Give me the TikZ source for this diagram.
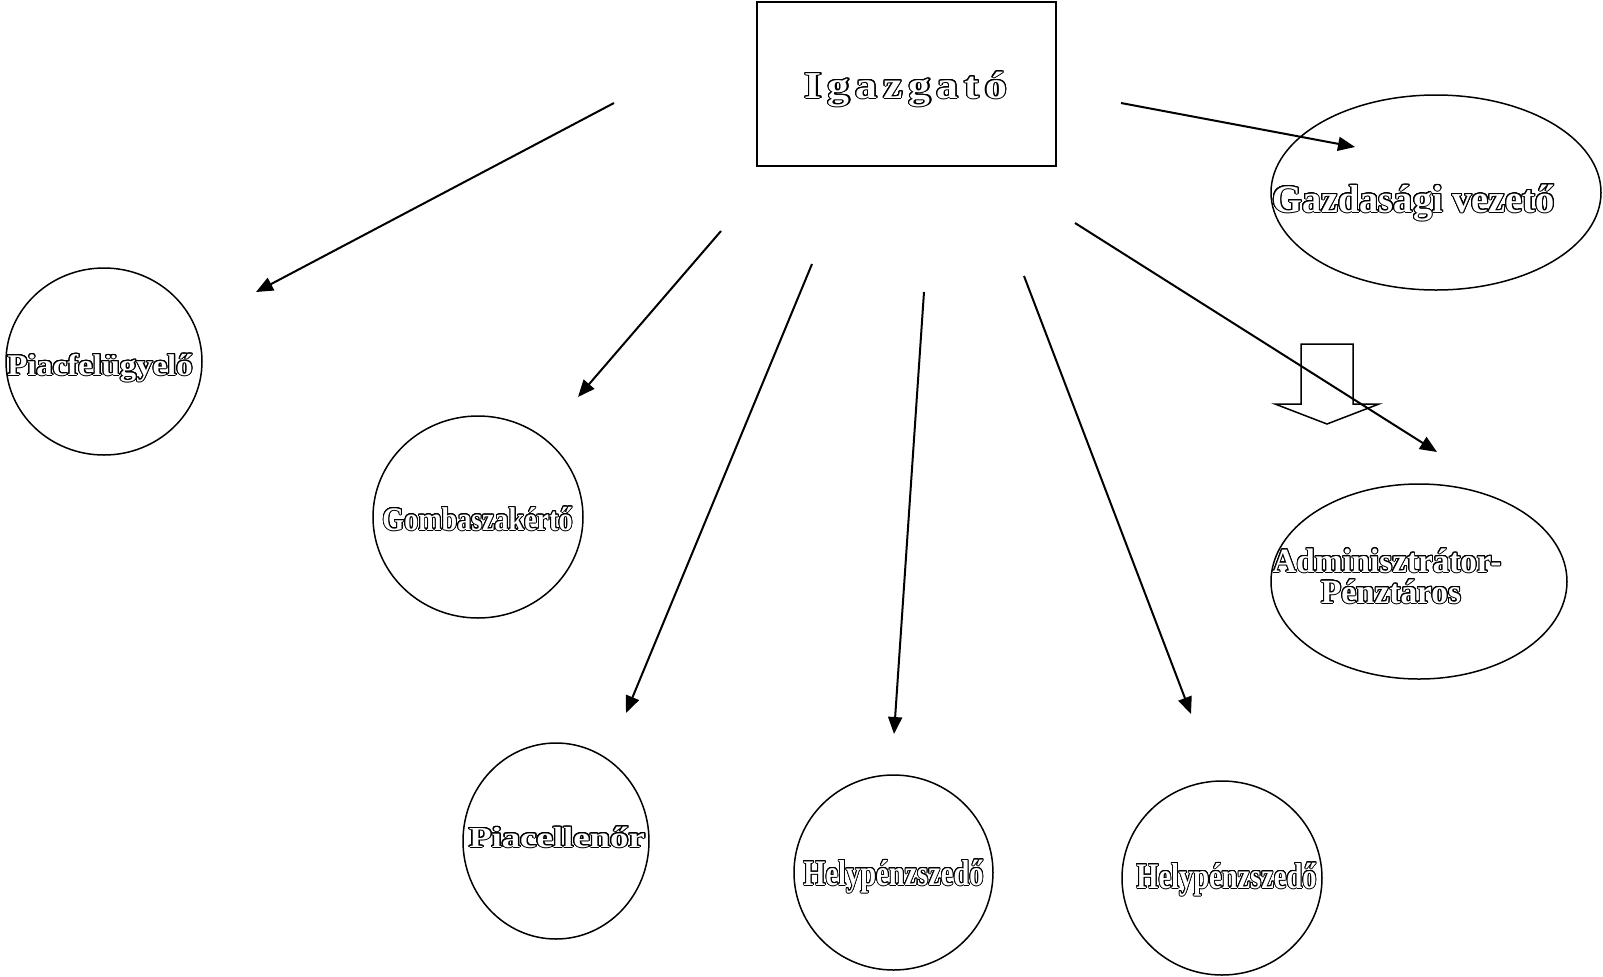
\documentclass[tikz,border=0pt]{standalone}
\usepackage{fontspec}
\setmainfont{Liberation Serif}
\usepackage{graphicx}
\usepackage{contour}
\contourlength{0.5pt}
\contournumber{24}
\usetikzlibrary{shapes.geometric,arrows.meta}
\newcommand{\olbl}[3]{\scalebox{#2}[1]{\fontsize{#1}{#1}\selectfont\bfseries\color{white}\contour{black}{#3}}}
\newcommand{\lsp}{\hspace{2.6pt}}
\begin{document}
\begin{tikzpicture}[x=0.5pt,y=-0.5pt,
  shp/.style={draw=black,line width=0.75pt,inner sep=0pt,outer sep=0pt},
  ell/.style={shp,ellipse},
  lbl/.style={inner sep=0pt,anchor=base},
  conn/.style={line width=1pt,-{Triangle[length=8.5pt,width=7pt]}},
  blockarrow/.style={draw=black,line width=0.75pt,line join=miter}]
\useasboundingbox (0,0) rectangle (1603,976);

% shapes
\node[shp,rectangle,line width=1pt,minimum width=149.5pt,minimum height=82pt] (igaz) at (906.5,84) {};
\node[ell,minimum width=98pt,minimum height=93.5pt] (piacf) at (104,361.5) {};
\node[ell,minimum width=165pt,minimum height=97.5pt] (gazd) at (1436,192.5) {};
\node[ell,minimum width=148pt,minimum height=97.5pt] (admin) at (1419,581.5) {};
\node[ell,minimum width=105pt,minimum height=101pt] (gomba) at (478,517) {};
\node[ell,minimum width=93pt,minimum height=98pt] (piacell) at (556,841) {};
\node[ell,minimum width=99.5pt,minimum height=97.5pt] (hely1) at (893.5,872.5) {};
\node[ell,minimum width=100pt,minimum height=97pt] (hely2) at (1222,878) {};

% labels
\node[lbl] (tigaz) at (906,98) {\olbl{19pt}{1.15}{I\lsp g\lsp a\lsp z\lsp g\lsp a\lsp t\lsp ó}};
\node[lbl] (tpiacf) at (100,375) {\olbl{15pt}{1.09}{Piacfelügyelő}};
\node[lbl] (tgazd) at (1413.5,212) {\olbl{19.5pt}{0.985}{Gazdasági vezető}};
\node[lbl] (tgomba) at (477.5,530) {\olbl{16.5pt}{0.85}{Gombaszakértő}};
\node[lbl] (tpiacell) at (557,847) {\olbl{14.5pt}{1.27}{Piacellenőr}};
\node[lbl] (thely1) at (893.5,885) {\olbl{18pt}{0.79}{Helypénzszedő}};
\node[lbl] (thely2) at (1226.5,888) {\olbl{18pt}{0.79}{Helypénzszedő}};
\node[lbl] (tadm1) at (1387,572) {\olbl{17pt}{0.975}{Adminisztrátor-}};
\node[lbl] (tadm2) at (1391,603) {\olbl{17pt}{0.98}{Pénztáros}};

% hollow block arrow
\draw[blockarrow] (1301,344) -- (1353,344) -- (1353,404) -- (1379,404) -- (1327,424) -- (1275,404) -- (1301,404) -- cycle;

% connector endpoints
\coordinate (a1s) at (614,103); \coordinate (a1e) at (256,292);
\coordinate (a2s) at (721,231); \coordinate (a2e) at (578,397);
\coordinate (a3s) at (812,264); \coordinate (a3e) at (626,713);
\coordinate (a4s) at (924,292); \coordinate (a4e) at (894,734);
\coordinate (a5s) at (1024,276); \coordinate (a5e) at (1191,714);
\coordinate (a6s) at (1075,223); \coordinate (a6e) at (1437,452);
\coordinate (a7s) at (1121,103); \coordinate (a7e) at (1355,147);

\draw[conn] (a1s) -- (a1e);
\draw[conn] (a2s) -- (a2e);
\draw[conn] (a3s) -- (a3e);
\draw[conn] (a4s) -- (a4e);
\draw[conn] (a5s) -- (a5e);
\draw[conn] (a6s) -- (a6e);
\draw[conn] (a7s) -- (a7e);
\end{tikzpicture}
\end{document}
